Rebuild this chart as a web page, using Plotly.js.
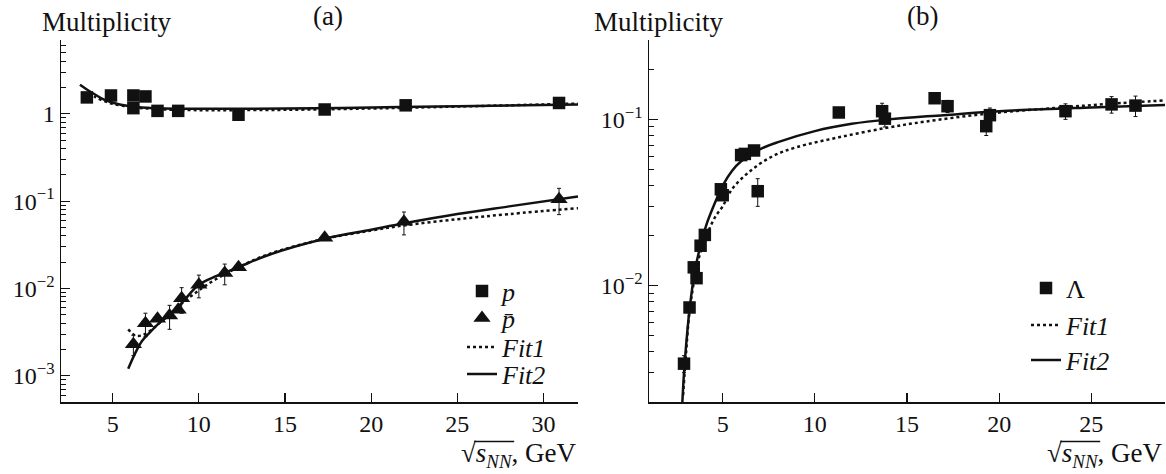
<!DOCTYPE html>
<html>
<head>
<meta charset="utf-8">
<script src="https://cdn.plot.ly/plotly-3.0.1.min.js"></script>
<style>html,body{margin:0;padding:0;background:#fff;}#chart{width:1166px;height:474px;}</style>
</head>
<body>
<div id="chart"></div>
<script>
// ---------- Panel (a): protons and antiprotons ----------
const pX = [3.5, 4.9, 6.2, 6.2, 6.9, 7.6, 8.8, 12.3, 17.3, 22.0, 30.9];
const pY = [1.54, 1.62, 1.62, 1.16, 1.58, 1.08, 1.08, 0.975, 1.12, 1.25, 1.33];

const pbarX = [6.2, 6.9, 7.6, 8.3, 8.8, 9.0, 10.0, 11.5, 12.3, 17.3, 21.9, 30.9];
const pbarY = [0.0023, 0.0040, 0.0045, 0.0049, 0.0057, 0.0077, 0.011, 0.015, 0.0175, 0.038, 0.058, 0.105];
const pbarErr = [0.0006, 0.0012, 0, 0.0015, 0, 0.0025, 0.0032, 0.004, 0, 0, 0.017, 0.035];

const fit1pX = [3.6, 4, 4.5, 5, 6, 7, 8, 10, 12, 15, 20, 25, 32];
const fit1pY = [1.75, 1.55, 1.4, 1.3, 1.2, 1.15, 1.12, 1.1, 1.1, 1.11, 1.15, 1.21, 1.31];
const fit2pX = [3.1, 3.5, 4, 4.5, 5, 6, 7, 8, 10, 12, 15, 20, 25, 32];
const fit2pY = [2.15, 1.9, 1.65, 1.45, 1.34, 1.22, 1.17, 1.15, 1.14, 1.14, 1.15, 1.18, 1.22, 1.28];

const fit1pbarX = [5.9, 6.3, 6.7, 7.2, 7.7, 8.3, 9, 10, 11, 12.3, 14, 17.3, 20, 22, 25, 28, 32];
const fit1pbarY = [0.0034, 0.0029, 0.0029, 0.0033, 0.0040, 0.0050, 0.0067, 0.0095, 0.0128, 0.0175, 0.0245, 0.037, 0.046, 0.053, 0.062, 0.071, 0.083];
const fit2pbarX = [5.9, 6.3, 6.7, 7.2, 7.7, 8.3, 9, 10, 11, 12.3, 14, 17.3, 20, 22, 25, 28, 32];
const fit2pbarY = [0.0012, 0.0018, 0.0025, 0.0032, 0.0040, 0.0050, 0.0068, 0.0110, 0.0138, 0.0175, 0.024, 0.037, 0.047, 0.056, 0.071, 0.087, 0.113];

// ---------- Panel (b): Lambda ----------
const lamX = [2.9, 3.2, 3.43, 3.58, 3.8, 4.03, 4.9, 5.0, 6.0, 6.2, 6.7, 6.9, 11.3, 13.65, 13.8, 16.5, 17.2, 19.3, 19.5, 23.6, 26.1, 27.4];
const lamY = [0.0034, 0.0074, 0.0129, 0.0111, 0.0174, 0.0202, 0.038, 0.035, 0.061, 0.062, 0.065, 0.037, 0.110, 0.112, 0.101, 0.134, 0.120, 0.091, 0.106, 0.112, 0.123, 0.121];
const lamErr = [0.0004, 0, 0, 0, 0, 0, 0, 0, 0, 0, 0, 0.007, 0, 0.013, 0.011, 0, 0.01, 0.011, 0.011, 0.012, 0.014, 0.017];

const fit1lX = [2.85, 3.0, 3.2, 3.5, 3.8, 4.2, 4.6, 5, 5.5, 6.5, 7.7, 9, 11.3, 13.9, 16, 19.3, 23, 26, 29];
const fit1lY = [0.0022, 0.0038, 0.0070, 0.0115, 0.016, 0.021, 0.026, 0.030, 0.038, 0.049, 0.060, 0.068, 0.078, 0.089, 0.097, 0.108, 0.117, 0.124, 0.130];
const fit2lX = [2.8, 2.9, 3.0, 3.2, 3.5, 3.8, 4.1, 4.5, 5.0, 5.5, 6, 7, 8, 10, 12, 14, 17, 20, 25, 29];
const fit2lY = [0.0019, 0.003, 0.0042, 0.0072, 0.0125, 0.0175, 0.023, 0.030, 0.040, 0.049, 0.056, 0.066, 0.073, 0.085, 0.094, 0.100, 0.106, 0.112, 0.118, 0.122];

// tick labels
const yTickVals1 = [0.001, 0.01, 0.1, 1];
const yTickText1 = ['10<sup>\u22123</sup>', '10<sup>\u22122</sup>', '10<sup>\u22121</sup>', '1'];
const yTickVals2 = [0.01, 0.1];
const yTickText2 = ['10<sup>\u22122</sup>', '10<sup>\u22121</sup>'];
const xTickVals1 = [5, 10, 15, 20, 25, 30];
const xTickVals2 = [5, 10, 15, 20, 25];

function minorLog(lo, hi) {
  const out = [];
  for (let d = -5; d <= 2; d++) {
    for (let k = 2; k <= 9; k++) {
      const v = k * Math.pow(10, d);
      if (v > lo && v < hi) out.push(v);
    }
  }
  return out;
}

const FONT = '"Liberation Serif", "Times New Roman", Times, serif';
const black = '#111';
const LW = 2.5;

const traces = [
  {x: pX, y: pY, type: 'scatter', mode: 'markers', name: '<i>p</i>',
   marker: {symbol: 'square', size: 12.5, color: black}, xaxis: 'x', yaxis: 'y', legend: 'legend'},
  {x: pbarX, y: pbarY, type: 'scatter', mode: 'markers', name: '<i>p\u0304</i>',
   error_y: {type: 'data', array: pbarErr, color: black, thickness: 1, width: 2},
   marker: {symbol: 'triangle-up', size: 15, color: black}, xaxis: 'x', yaxis: 'y', legend: 'legend3'},
  {x: fit1pX, y: fit1pY, type: 'scatter', mode: 'lines', name: '<i>Fit1</i>', line: {color: black, width: LW, dash: 'dot', shape: 'spline'},
   xaxis: 'x', yaxis: 'y', legend: 'legend4'},
  {x: fit2pX, y: fit2pY, type: 'scatter', mode: 'lines', name: '<i>Fit2</i>', line: {color: black, width: LW, shape: 'spline'},
   xaxis: 'x', yaxis: 'y', legend: 'legend5'},
  {x: fit1pbarX, y: fit1pbarY, type: 'scatter', mode: 'lines', showlegend: false, line: {color: black, width: LW, dash: 'dot', shape: 'spline'},
   xaxis: 'x', yaxis: 'y'},
  {x: fit2pbarX, y: fit2pbarY, type: 'scatter', mode: 'lines', showlegend: false, line: {color: black, width: LW, shape: 'spline'},
   xaxis: 'x', yaxis: 'y'},

  {x: lamX, y: lamY, type: 'scatter', mode: 'markers', name: '\u039B',
   error_y: {type: 'data', array: lamErr, color: black, thickness: 1, width: 2},
   marker: {symbol: 'square', size: 12.5, color: black}, xaxis: 'x2', yaxis: 'y2', legend: 'legend2'},
  {x: fit1lX, y: fit1lY, type: 'scatter', mode: 'lines', name: '<i>Fit1</i>', line: {color: black, width: LW, dash: 'dot', shape: 'spline'},
   xaxis: 'x2', yaxis: 'y2', legend: 'legend6'},
  {x: fit2lX, y: fit2lY, type: 'scatter', mode: 'lines', name: '<i>Fit2</i>', line: {color: black, width: LW, shape: 'spline'},
   xaxis: 'x2', yaxis: 'y2', legend: 'legend7'}
];

const W = 1166, H = 474;
const px = v => v / W;
const py = v => 1 - v / H;

const axCommon = {
  showgrid: false, zeroline: false, showline: true, linecolor: black, linewidth: 1.5,
  ticks: 'inside', ticklen: 9, tickwidth: 1.2, tickcolor: black,
  tickfont: {family: FONT, size: 24, color: black}, mirror: false
};

function leg(xp, yp) {
  return {x: px(xp), y: py(yp), xanchor: 'left', yanchor: 'middle', bgcolor: 'rgba(0,0,0,0)',
    borderwidth: 0, font: {family: FONT, size: 26, color: black}, itemwidth: 30};
}

// x-axis title: radical sign + overlined radicand
const TS = 27;
function axisTitle(rightPx) {
  return {text: '\u221A<i>s<sub>NN</sub></i>, GeV', xref: 'paper', yref: 'paper', x: px(rightPx), y: py(455),
    xanchor: 'right', yanchor: 'middle', showarrow: false, font: {family: FONT, size: TS, color: black}};
}
function vinculum(rightPx) {
  const k = TS / 25;
  return {type: 'line', xref: 'paper', yref: 'paper', x0: px(rightPx - 97 * k), x1: px(rightPx - 60 * k),
    y0: py(455 - 12.5 * k), y1: py(455 - 12.5 * k), line: {color: black, width: 1.3}};
}

const layout = {
  width: W, height: H,
  margin: {l: 0, r: 0, t: 0, b: 0},
  paper_bgcolor: '#fff', plot_bgcolor: '#fff',
  font: {family: FONT, color: black},
  xaxis: Object.assign({}, axCommon, {domain: [px(61), px(578)], range: [2, 32], tickmode: 'array', tickvals: xTickVals1, anchor: 'y'}),
  yaxis: Object.assign({}, axCommon, {domain: [py(402), py(40)], type: 'log', range: [Math.log10(5e-4), Math.log10(7)],
    tickmode: 'array', tickvals: yTickVals1, ticktext: yTickText1, anchor: 'x',
    minor: {tickmode: 'array', tickvals: minorLog(5e-4, 7), ticks: 'inside', ticklen: 5, tickwidth: 1, tickcolor: black}}),
  xaxis2: Object.assign({}, axCommon, {domain: [px(649), px(1165)], range: [1, 29], tickmode: 'array', tickvals: xTickVals2, anchor: 'y2'}),
  yaxis2: Object.assign({}, axCommon, {domain: [py(402), py(40)], type: 'log', range: [Math.log10(0.002), Math.log10(0.3)],
    tickmode: 'array', tickvals: yTickVals2, ticktext: yTickText2, anchor: 'x2',
    minor: {tickmode: 'array', tickvals: minorLog(0.002, 0.3), ticks: 'inside', ticklen: 5, tickwidth: 1, tickcolor: black}}),
  legend: leg(462, 291),
  legend3: leg(462, 318),
  legend4: leg(462, 347),
  legend5: leg(462, 374),
  legend2: leg(1026, 288),
  legend6: leg(1026, 325),
  legend7: leg(1026, 360),
  showlegend: true,
  annotations: [
    {text: 'Multiplicity', xref: 'paper', yref: 'paper', x: px(40), y: py(22), xanchor: 'left', yanchor: 'middle', showarrow: false, font: {family: FONT, size: 27, color: black}},
    {text: '(a)', xref: 'paper', yref: 'paper', x: px(328), y: py(16), xanchor: 'center', yanchor: 'middle', showarrow: false, font: {family: FONT, size: 27, color: black}},
    {text: 'Multiplicity', xref: 'paper', yref: 'paper', x: px(592), y: py(22), xanchor: 'left', yanchor: 'middle', showarrow: false, font: {family: FONT, size: 27, color: black}},
    {text: '(b)', xref: 'paper', yref: 'paper', x: px(922), y: py(16), xanchor: 'center', yanchor: 'middle', showarrow: false, font: {family: FONT, size: 27, color: black}},
    axisTitle(579),
    axisTitle(1165)
  ],
  shapes: [vinculum(579), vinculum(1165)]
};

Plotly.newPlot('chart', traces, layout, {staticPlot: true, displayModeBar: false});
</script>
</body>
</html>
